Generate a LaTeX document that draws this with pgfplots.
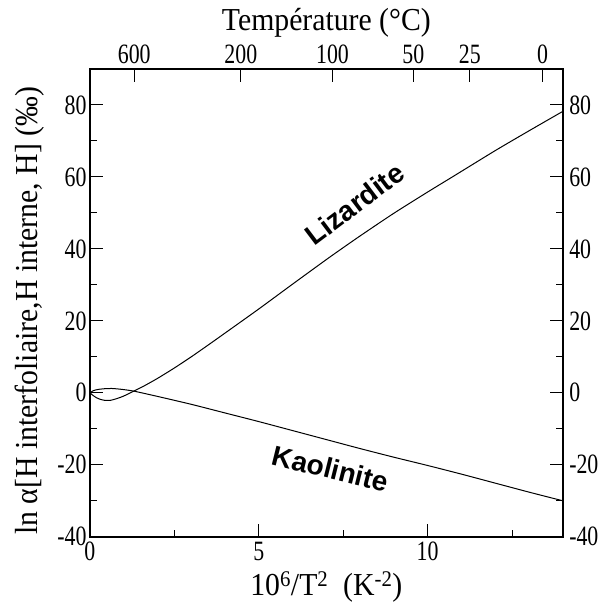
\documentclass[border=0pt]{standalone}
\usepackage{fontspec}
\setmainfont{Liberation Serif}[FakeStretch=0.93]
\newfontfamily\tickfont{Liberation Serif}[FakeStretch=0.78]
\newfontfamily\tagfont{Liberation Sans}
\usepackage{pgfplots}
\pgfplotsset{compat=1.18}

\begin{document}
\begin{tikzpicture}
\pgfplotsset{
    common/.style={
        scale only axis,
        width=473pt, height=468pt,
        xmin=0, xmax=14, ymin=-40, ymax=90,
        tick align=inside,
        major tick length=13pt,
        minor tick length=7pt,
        axis line style={line width=1.6pt},
        every tick/.style={black, line width=1pt},
        tick label style={font=\tickfont\fontsize{28}{30}\selectfont},
        label style={font=\fontsize{32}{34}\selectfont},
        ytick={-40,-20,0,20,40,60,80},
        yticklabels={-40,-20,0,20,40,60,80},
        minor ytick={-30,-10,10,30,50,70},
    }
}
\begin{axis}[common,
    at={(0pt,0pt)}, anchor=south west,
    xtick={0,5,10}, xticklabels={0,5,10},
    minor xtick={2.5,7.5,12.5},
    xtick pos=bottom, ytick pos=left,
    xticklabel style={yshift=-2pt},
    xlabel={10\textsuperscript{6}/T\textsuperscript{2}\ \ (K\textsuperscript{-2})},
    ylabel={ln α[H interfoliaire,H interne, H] (‰)},
    ylabel style={yshift=6pt, xshift=-8pt},
    xlabel style={yshift=-4pt},
]
% Lizardite
\addplot[black, line width=1pt, smooth, tension=0.4] coordinates {
    (0,0) (0.1,-0.8) (0.2,-1.4) (0.3,-1.8) (0.44,-2.1) (0.6,-2.1) (0.8,-1.6)
    (1.0,-0.9) (1.28,0.4) (1.6,1.9) (2.0,4.0) (2.5,6.9) (3.0,10.0)
    (3.55,13.6) (4.0,16.6) (5.0,23.3) (6.0,30.2) (7.1,37.7) (8.0,43.6)
    (9.0,49.9) (10.0,55.8) (10.75,60.1) (12.0,67.3) (13.0,72.8) (14.0,78.2)
};
% Kaolinite
\addplot[black, line width=1pt, smooth, tension=0.4] coordinates {
    (0,0) (0.1,0.6) (0.25,0.95) (0.45,1.15) (0.65,1.2) (0.9,1.0)
    (1.28,0.5) (2.0,-1.0) (3.0,-3.2) (4.0,-5.6) (5.0,-8.0) (6.0,-10.5)
    (7.0,-13.0) (8.0,-15.5) (9.0,-17.9) (10.0,-20.2) (11.0,-22.6)
    (12.0,-25.1) (13.0,-27.6) (14.0,-30.0)
};
\node[font=\tagfont\bfseries\fontsize{28}{30}\selectfont, rotate=37]
    at (axis cs:7.84,52.5) {Lizardite};
\node[font=\tagfont\bfseries\fontsize{28}{30}\selectfont, rotate=-14]
    at (axis cs:7.13,-21.1) {Kaolinite};
\end{axis}
\begin{axis}[common,
    at={(0pt,0pt)}, anchor=south west,
    axis x line*=top, axis y line*=right,
    xtick={1.3117,4.4669,7.1818,9.5762,11.2494,13.4028},
    xticklabels={600,200,100,50,25,0},
    minor xtick={},
    xlabel={Température (°C)},
    xlabel style={yshift=0pt},
    xticklabel style={yshift=2pt},
    yticklabel style={xshift=3pt},
]
\end{axis}
\path[use as bounding box] (-90pt,-69pt) rectangle (513pt,537pt);
\end{tikzpicture}
\end{document}
